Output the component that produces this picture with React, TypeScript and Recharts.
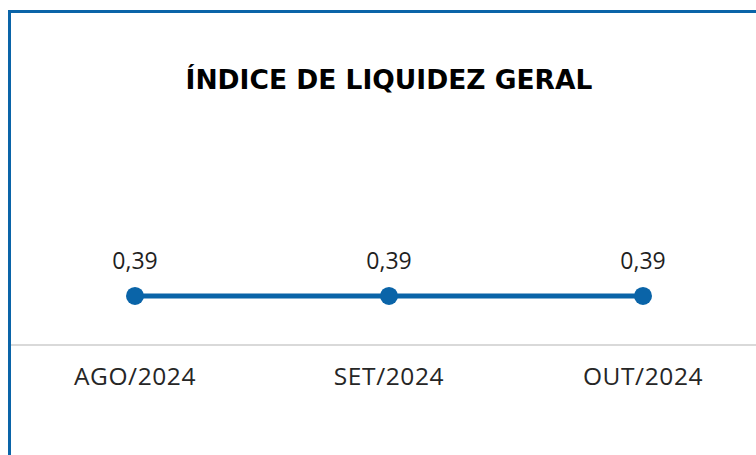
import React from 'react';
import { LineChart, Line, XAxis, YAxis, LabelList } from 'recharts';

const months = ['AGO/2024', 'SET/2024', 'OUT/2024'];
const liquidez = [0.39, 0.39, 0.39];

const chartData = months.map((name, i) => ({ name, value: liquidez[i] }));

const BLUE = '#0a64a8';
const FONT = '"Open Sans", sans-serif';
const TITLE_FONT = '"DejaVu Sans", sans-serif';

const fmt = (v: any) => Number(v).toFixed(2).replace('.', ',');

const ValueLabel = (props: any) => {
  const { x, y, width, value } = props;
  const cx = Number(x) + (Number(width) || 0) / 2;
  return (
    <text
      x={cx}
      y={Number(y) - 27}
      textAnchor="middle"
      fontSize={23}
      fill="#1f1f1f"
      fontFamily={FONT}
    >
      {fmt(value)}
    </text>
  );
};

export default function App() {
  return (
    <div
      style={{
        position: 'fixed',
        left: 8,
        top: 10,
        right: 0,
        bottom: 0,
        overflow: 'hidden',
      }}
    >
      <div
        style={{
          position: 'relative',
          width: 800,
          height: 480,
          borderLeft: `3px solid ${BLUE}`,
          borderTop: `3px solid ${BLUE}`,
          background: '#fff',
          fontFamily: FONT,
        }}
      >
        <div
          style={{
            position: 'absolute',
            left: 0,
            width: 756,
            top: 52,
            textAlign: 'center',
            fontSize: 26.5,
            fontWeight: 'bold',
            fontFamily: TITLE_FONT,
            color: '#000',
            lineHeight: '30px',
          }}
        >
          ÍNDICE DE LIQUIDEZ GERAL
        </div>
        <LineChart
          width={760}
          height={392}
          data={chartData}
          margin={{ top: 137, right: 0, left: 0, bottom: 0 }}
        >
          <XAxis
            dataKey="name"
            padding={{ left: 124, right: 128 }}
            axisLine={{ stroke: '#d9d9d9', strokeWidth: 2 }}
            tickLine={false}
            height={60}
            tick={{ fontSize: 24.5, fill: '#262626', fontFamily: FONT, letterSpacing: 0.6 }}
            dy={15}
          />
          <YAxis hide domain={[0, 1.55]} />
          <Line
            type="linear"
            dataKey="value"
            stroke={BLUE}
            strokeWidth={5}
            dot={{ r: 9, fill: BLUE, stroke: BLUE, strokeWidth: 0 }}
            isAnimationActive={false}
          >
            <LabelList dataKey="value" content={ValueLabel} />
          </Line>
        </LineChart>
      </div>
    </div>
  );
}
